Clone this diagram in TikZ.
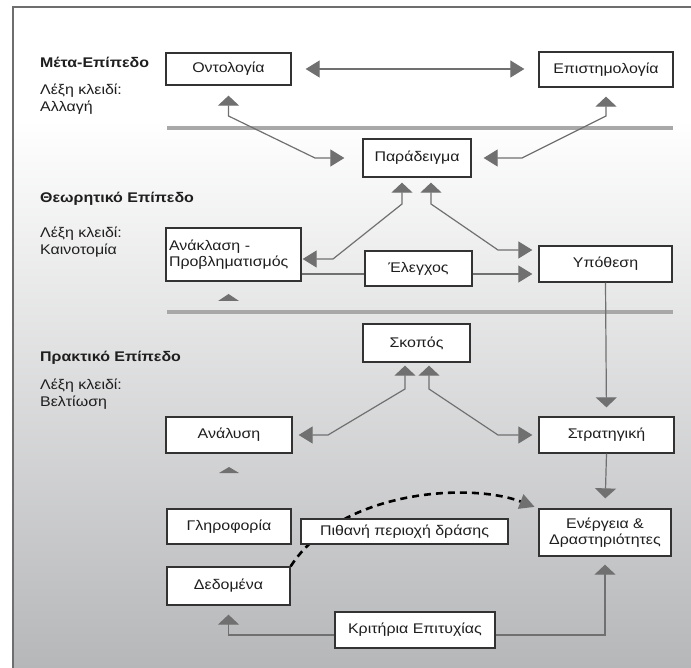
\documentclass[tikz,border=0pt]{standalone}
\usepackage{fontspec}
\setmainfont{Liberation Sans}[FakeStretch=1.14]
\usetikzlibrary{arrows.meta}
\definecolor{boxline}{HTML}{333333}
\definecolor{linkgray}{HTML}{707070}
\definecolor{sepgray}{HTML}{A8A8A8}
\definecolor{framegray}{HTML}{6E6E6E}
\definecolor{bgbottom}{HTML}{B6B7B9}
\definecolor{txt}{HTML}{1E1E1E}
\begin{document}
\begin{tikzpicture}[x=1pt,y=-1pt,
  box/.style 2 args={draw=boxline, line width=1.3pt, fill=white, inner sep=0pt,
    minimum width=#1pt, minimum height=#2pt, align=center, text=txt,
    font=\fontsize{14}{16.5}\selectfont},
  link/.style={draw=linkgray, line width=1.2pt},
  vtip/.tip={Triangle[length=10pt,width=21pt]},
  htip/.tip={Triangle[length=14pt,width=17pt]},
  lvl/.style={anchor=west, inner sep=0pt, text=txt, font=\fontsize{14}{17}\selectfont\bfseries},
  keyw/.style={anchor=north west, inner sep=0pt, align=left, text=txt,
    font=\fontsize{14}{17}\selectfont},
  sep/.style={draw=sepgray, line width=4pt}]

% canvas, shaded backdrop and frame
\useasboundingbox (0,0) rectangle (691,668);
\fill[white] (0,0) rectangle (691,668);
\shade[top color=white, bottom color=bgbottom] (13,120) rectangle (691,668);
\draw[framegray, line width=1.5pt] (13,668) -- (13,7) -- (691,7);

% level separators
\draw[sep] (167,128) -- (673,128);
\draw[sep] (167,312) -- (673,312);

% level titles and keywords
\node[lvl] (lvlmeta) at (40,62) {Μέτα-Επίπεδο};
\node[keyw] (keymeta) at (40,84) {Λέξη κλειδί:\\Αλλαγή};
\node[lvl] (lvltheo) at (40,199) {Θεωρητικό Επίπεδο};
\node[keyw] (keytheo) at (40,227) {Λέξη κλειδί:\\Καινοτομία};
\node[lvl] (lvlprac) at (40,358) {Πρακτικό Επίπεδο};
\node[keyw] (keyprac) at (40,379) {Λέξη κλειδί:\\Βελτίωση};

% boxes
\node[box={125}{32}] (ont) at (228.5,69) {Οντολογία};
\node[box={134}{35}] (epi) at (606,69.5) {Επιστημολογία};
\node[box={108}{38}] (par) at (417,158) {Παράδειγμα};
\node[box={135}{53}, align=left, text width=129pt] (ana) at (233.5,254.5) {Ανάκλαση -\\Προβληματισμός};
\node[box={107}{35}] (ele) at (418.5,268.5) {Έλεγχος};
\node[box={133}{36}] (hyp) at (605.5,264) {Υπόθεση};
\node[box={107}{38}] (sko) at (416.5,343) {Σκοπός};
\node[box={126}{36}] (anal) at (229,435) {Ανάλυση};
\node[box={135}{36}] (str) at (606.5,435) {Στρατηγική};
\node[box={124}{35}] (gli) at (229,526.5) {Γληροφορία};
\node[box={123}{38}] (ded) at (228.5,586) {Δεδομένα};
\node[box={132}{47}] (ene) at (605,532.5) {Ενέργεια \&\\Δραστηριότητες};
\node[box={160}{36}] (kri) at (415,630) {Κριτήρια Επιτυχίας};

% meta level links
\draw[link, {htip}-{htip}, shorten <=14pt, shorten >=14pt] (ont.east) -- (epi.west |- ont.east);
\coordinate (ol) at (228.5,116);
\coordinate (olp) at (315,158);
\draw[link, {vtip}-{htip}, shorten <=10pt, shorten >=18pt] (ont.south) -- (ol) -- (olp) -- (par.west);
\coordinate (el) at (606,116);
\coordinate (elp) at (522,158);
\draw[link, {vtip}-{htip}, shorten <=9pt, shorten >=12pt] (epi.south) -- (el) -- (elp) -- (par.east);

% theory level links
\coordinate (pl) at (402,204);
\coordinate (pld) at (333,259);
\draw[link, {vtip}-{htip}, shorten <=5pt, shorten >=1pt] (pl |- par.south) -- (pl) -- (pld) -- (ana.east |- pld);
\coordinate (pr) at (431,204);
\coordinate (prd) at (498,250);
\draw[link, {vtip}-{htip}, shorten <=5pt, shorten >=6pt] (pr |- par.south) -- (pr) -- (prd) -- (hyp.west |- prd);
\coordinate (eline) at (0,274);
\draw[link] (ana.east |- eline) -- (ele.west |- eline);
\draw[link, -{htip}, shorten >=6pt] (ele.east |- eline) -- (hyp.west |- eline);
\draw[link, -{vtip}, shorten >=9pt] (hyp.south) -- (str.north);

% practice level links
\coordinate (sl) at (405,389);
\coordinate (sld) at (328,435);
\draw[link, {vtip}-{htip}, shorten <=3pt, shorten >=6pt] (sl |- sko.south) -- (sl) -- (sld) -- (anal.east);
\coordinate (sr) at (429,389);
\coordinate (srd) at (498,435);
\draw[link, {vtip}-{htip}, shorten <=3pt, shorten >=6pt] (sr |- sko.south) -- (sr) -- (srd) -- (str.west);
\draw[link, -{vtip}, shorten >=10pt] (str.south) -- (ene.north);
\coordinate (kline) at (0,635);
\draw[link, -{vtip}, shorten >=8pt] (kri.east |- kline) -- (ene.south |- kline) -- (ene.south);
\draw[link, -{vtip}, shorten >=9pt] (kri.west |- kline) -- (ded.south |- kline) -- (ded.south);

% lone arrowheads under two boxes
\fill[linkgray] (218,301) -- (239,301) -- (228.5,294) -- cycle;
\fill[linkgray] (219,473) -- (239,473) -- (229,467) -- cycle;

% dashed path of possible action, passing behind its label
\draw[black, line width=2.6pt, dash pattern=on 7pt off 5pt,
  -{Triangle[length=15pt,width=15pt,fill=linkgray,color=linkgray]}, shorten >=4pt]
  (ded.north east) .. controls (340,490) and (470,482) .. (ene.north west);
\node[box={207}{25}] (pit) at (404.5,531.5) {Πιθανή περιοχή δράσης};
\end{tikzpicture}
\end{document}
